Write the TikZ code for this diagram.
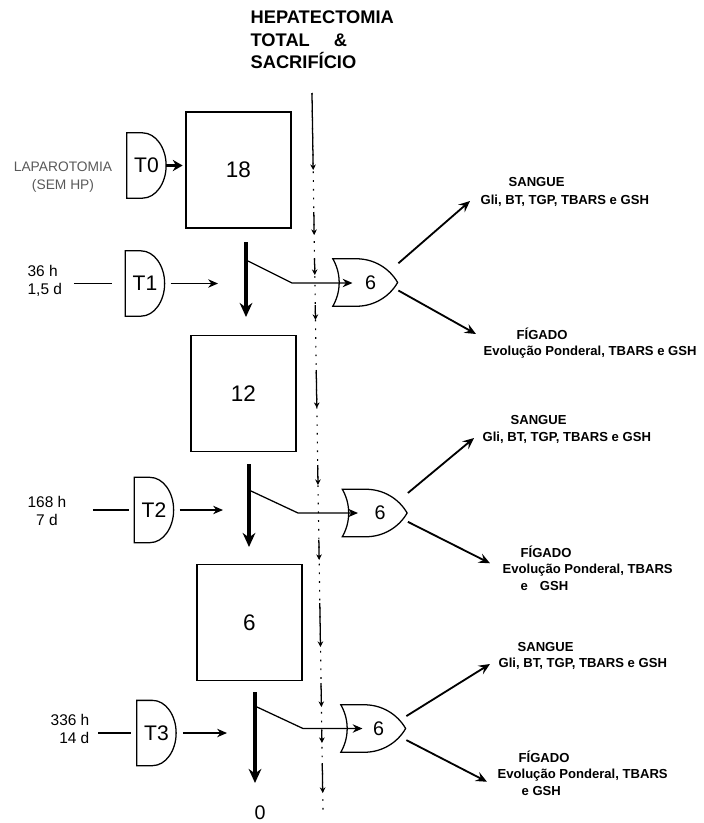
\documentclass[tikz,border=0pt]{standalone}
\usepackage{fontspec}
\setmainfont{Liberation Sans}
\usetikzlibrary{arrows.meta,positioning,calc,shapes.gates.logic.US}

\begin{document}
\begin{tikzpicture}[
    x=0.025cm, y=-0.025cm,
    >=Latex,
    line width=0.9pt,
    box/.style={draw, minimum width=2.62cm, minimum height=2.9cm, inner sep=0pt, font=\fontsize{16}{16}\selectfont},
    tgate/.style={
        minimum width=0.95cm,
        minimum height=1.6cm,
        inner sep=0pt,
        font=\fontsize{15}{15}\selectfont
    },
    orgate/.style={
        draw,
        shape=or gate US,
        minimum width=1.62cm,
        minimum height=1.05cm,
        inner sep=0pt,
        font=\fontsize{14}{14}\selectfont
    },
    flow/.style={line width=2.4pt, -{Stealth[length=10pt,width=9pt]}},
    feed/.style={line width=0.9pt, -{Stealth[length=7pt,width=6pt]}},
    branch/.style={line width=1.3pt, -{Stealth[length=8pt,width=7pt,inset=3pt]}},
    stub/.style={line width=0.9pt, -{Stealth[length=4pt,width=4pt]}},
    midline/.style={line width=0.8pt, dash pattern=on 1.2pt off 5pt},
    hdr/.style={font=\bfseries\fontsize{9.3}{11}\selectfont, anchor=west, inner sep=0pt},
    hours/.style={font=\fontsize{11}{13}\selectfont, inner sep=0pt},
    title/.style={font=\bfseries\fontsize{13}{16}\selectfont, align=left, anchor=west, inner sep=0pt}
]
\useasboundingbox (0,0) rectangle (704,823);

% Title
\node[title] (hep) at (250,40) {HEPATECTOMIA\\TOTAL\hspace{0.6cm}\&\\SACRIFÍCIO};

% Dotted time axis
\draw[midline] (312,93) -- (323,810);
\foreach \ya/\yb in {93/170,212/235,258/275,305/320,370/408,465/485,540/560,603/647,683/707,730/743,763/793}
    \draw[stub] ({312+(\ya-93)*0.0153},\ya) -- ({312+(\yb-93)*0.0153},\yb);

% =====================================================
% BOXES
% =====================================================
\node[box] (b18) at (238.5,170) {18};
\node[box] (b12) at (243.5,393.5) {12};
\node[box] (b6) at (249.5,622.5) {6};

% =====================================================
% GATES
% =====================================================
\node[tgate] (t0) at (146.5,165.5) {T0};
\node[tgate] (t1) at (145,283.5) {T1};
\node[tgate] (t2) at (154,510) {T2};
\node[tgate] (t3) at (156.5,733) {T3};

% D-shaped outlines
\foreach \g in {t0,t1,t2,t3}
    \draw (\g.south west) -- (\g.north west)
        -- ($(\g.north west)!0.4!(\g.north east)$)
        .. controls ($(\g.north west)!0.73!(\g.north east)$) and ($(\g.east)!0.55!(\g.north east)$) .. (\g.east)
        .. controls ($(\g.east)!0.55!(\g.south east)$) and ($(\g.south west)!0.73!(\g.south east)$) .. ($(\g.south west)!0.4!(\g.south east)$)
        -- cycle;

\node[orgate] (or1) at (360.5,282.5) {\hspace*{0.5cm}6};
\node[orgate] (or2) at (370,513) {\hspace*{0.5cm}6};
\node[orgate] (or3) at (368.5,728.5) {\hspace*{0.5cm}6};

% Row 0
\node[font=\fontsize{9.8}{13}\selectfont, text=black!65, align=center] (lap) at (63,177) {LAPAROTOMIA\\(SEM HP)};
\draw[line width=1.6pt, -{Stealth[length=7pt,width=8pt]}, shorten >=2pt] (t0.east) -- (t0.east -| b18.west);

% Row 1
\node[hours, align=left, anchor=west] (h1) at (27,281) {36 h\\1,5 d};
\draw[shorten <=0.28cm, shorten >=0.33cm] (h1.east |- t1.west) -- (t1.west);
\coordinate (d1top) at (246,242);
\coordinate (d1bot) at (246,317);
\coordinate (k1a) at (248,261);
\coordinate (k1b) at (292,283);
\draw[feed, shorten <=0.15cm, shorten >=0.7cm] (t1.east) -- (t1.east -| d1top);
\draw[flow] (d1top) -- (d1bot);
\draw[feed, shorten >=0.2cm] (k1a) -- (k1b) -- (k1b -| or1.center);

% Row 2
\node[hours, align=center] (h2) at (47,511) {168 h\\7 d};
\draw[shorten <=0.65cm, shorten >=0.13cm] (h2.east |- t2.west) -- (t2.west);
\coordinate (d2top) at (249,464);
\coordinate (d2bot) at (249,547);
\coordinate (k2a) at (251,491);
\coordinate (k2b) at (298,513);
\draw[feed, shorten <=0.15cm, shorten >=0.65cm] (t2.east) -- (t2.east -| d2top);
\draw[flow] (d2top) -- (d2bot);
\draw[feed, shorten >=0.3cm] (k2a) -- (k2b) -- (k2b -| or2.center);

% Row 3
\node[hours, align=right, anchor=east] (h3) at (90,729) {336 h\\14 d};
\draw[shorten <=0.2cm, shorten >=0.15cm] (h3.east |- t3.west) -- (t3.west);
\coordinate (d3top) at (255,692);
\coordinate (d3bot) at (255,783);
\coordinate (k3a) at (257,707);
\coordinate (k3b) at (303,728.5);
\draw[feed, shorten <=0.17cm, shorten >=0.7cm] (t3.east) -- (t3.east -| d3top);
\draw[flow] (d3top) -- (d3bot);
\draw[feed, shorten >=0.15cm] (k3a) -- (k3b) -- (k3b -| or3.center);
\node[font=\fontsize{14}{14}\selectfont] (zero) at (260,813) {0};

% =====================================================
% RESULTS
% =====================================================
\node[hdr] (s1h) at (508,182) {SANGUE};
\node[hdr] (s1t) at (480,201) {Gli, BT, TGP, TBARS e GSH};
\node[hdr] (f1h) at (516,334) {FÍGADO};
\node[hdr] (f1l) at (483,352) {Evolução Ponderal, TBARS e GSH};

\node[hdr] (s2h) at (510,420) {SANGUE};
\node[hdr] (s2t) at (482,438) {Gli, BT, TGP, TBARS e GSH};
\node[hdr] (f2h) at (520,552) {FÍGADO};
\node[hdr] (f2l) at (502,570) {Evolução Ponderal, TBARS};
\node[hdr] (f2e) at (520,586) {e\hspace{0.3cm}GSH};

\node[hdr] (s3h) at (517,647) {SANGUE};
\node[hdr] (s3t) at (498,664) {Gli, BT, TGP, TBARS e GSH};
\node[hdr] (f3h) at (518,757) {FÍGADO};
\node[hdr] (f3l) at (497,775) {Evolução Ponderal, TBARS};
\node[hdr] (f3e) at (521,791) {e GSH};

\draw[branch] ([yshift=0.48cm]or1.east) -- ([xshift=-0.25cm]s1t.west);
\draw[branch] ([yshift=-0.2cm]or1.east) -- ([xshift=-1cm]f1h.west);
\draw[branch] ([yshift=0.5cm]or2.east) -- ([xshift=-0.2cm]s2t.west);
\draw[branch] ([yshift=-0.22cm]or2.east) -- ([xshift=-0.3cm]f2l.north west);
\draw[branch] ([yshift=0.31cm]or3.east) -- ([xshift=-0.2cm]s3t.west);
\draw[branch] ([yshift=-0.29cm]or3.east) -- ([xshift=-0.25cm]f3l.south west);

\end{tikzpicture}
\end{document}
